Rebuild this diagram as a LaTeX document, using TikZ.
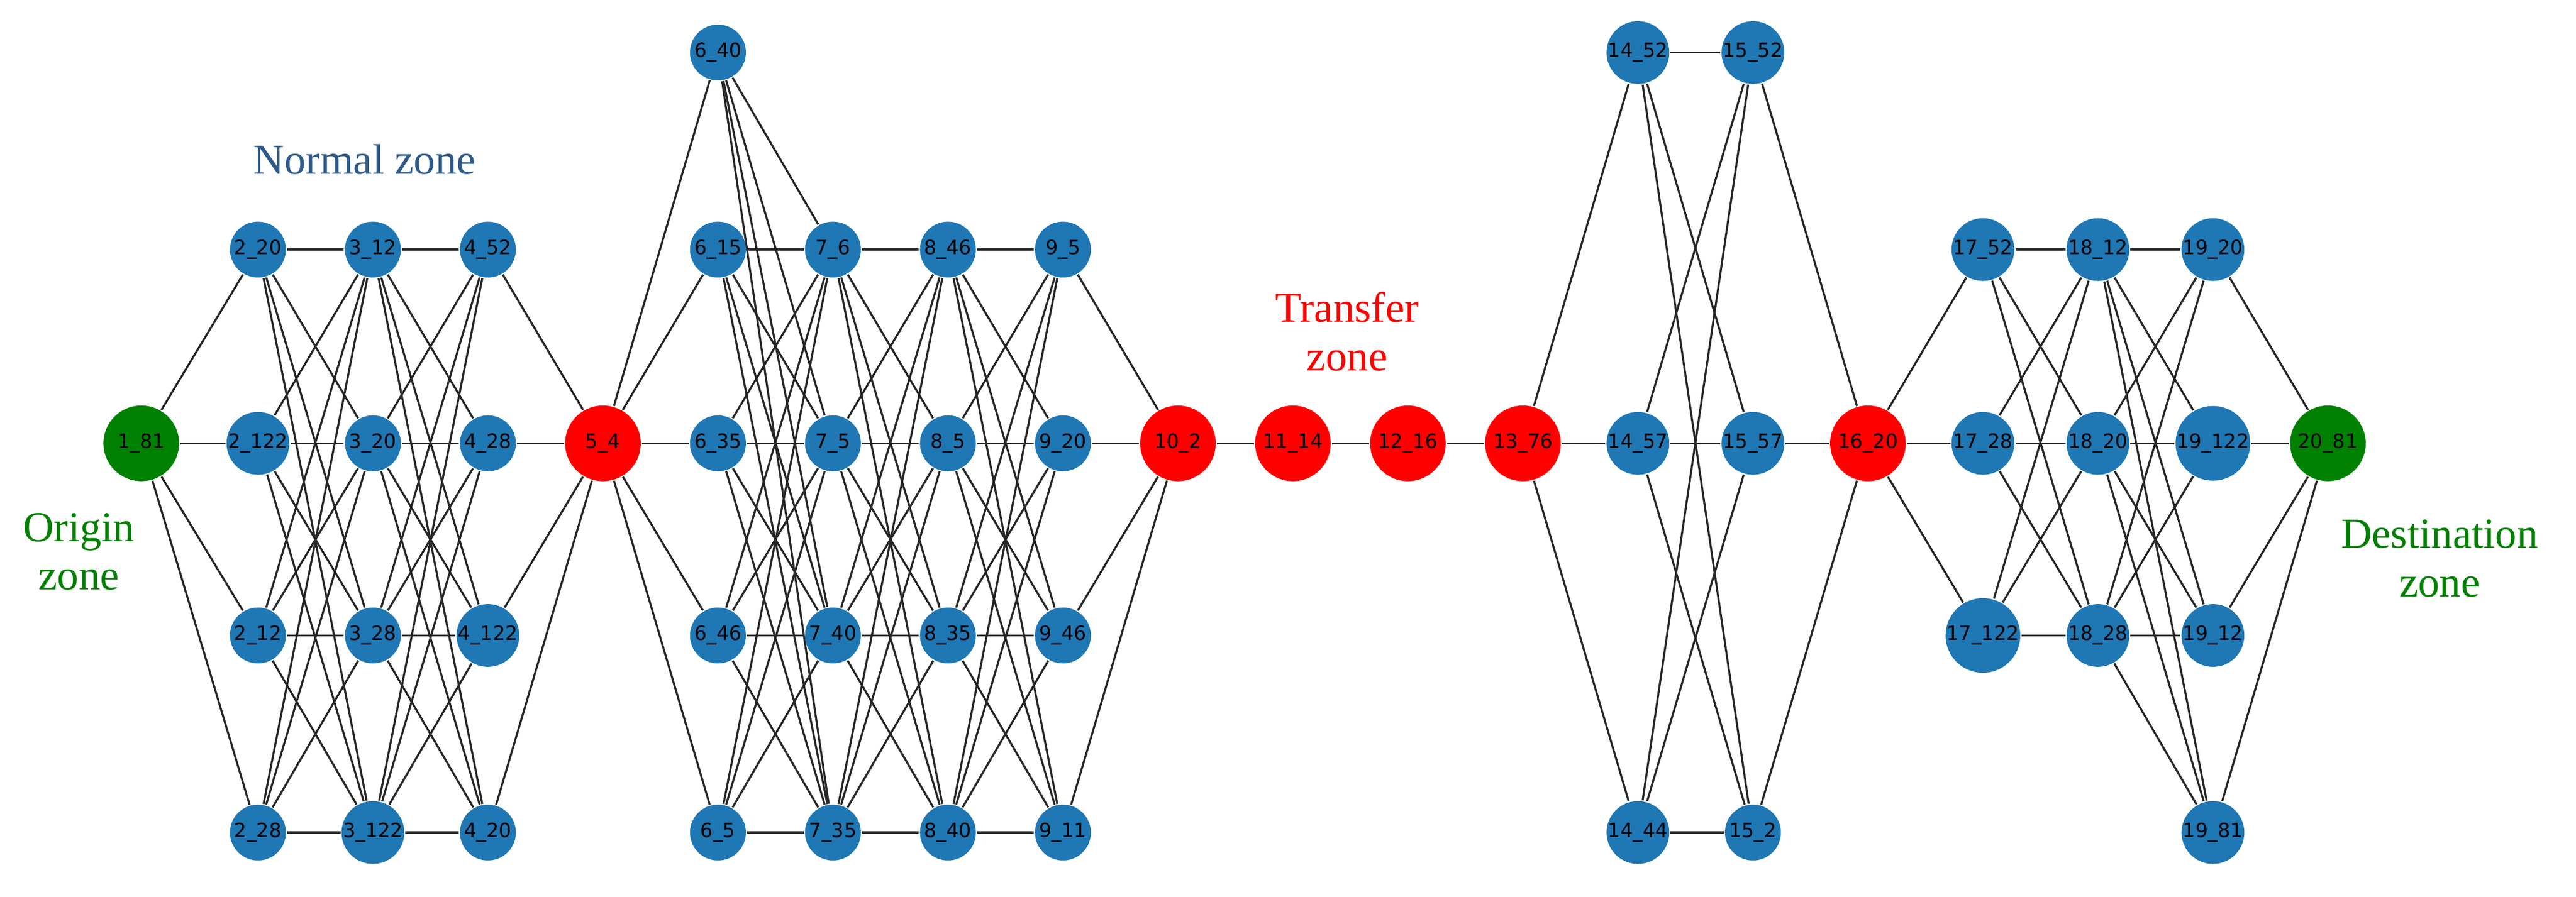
\documentclass[tikz,border=0pt]{standalone}
\usepackage{fontspec}
\setmainfont{Liberation Serif}
\newfontfamily\lab{DejaVu Sans}
\usetikzlibrary{backgrounds}
\definecolor{nb}{HTML}{1F77B4}
\definecolor{zblue}{HTML}{2E5A8A}
\definecolor{zgreen}{HTML}{008000}
\begin{document}
\begin{tikzpicture}[x=0.01cm,y=-0.01cm,
  sn/.style={circle,fill=nb,minimum size=0.34cm,inner sep=0pt,font=\lab\fontsize{3.4}{4}\selectfont},
  rn/.style={circle,fill=red,minimum size=0.46cm,inner sep=0pt,font=\lab\fontsize{3.4}{4}\selectfont},
  gn/.style={circle,fill=zgreen,minimum size=0.46cm,inner sep=0pt,font=\lab\fontsize{3.4}{4}\selectfont},
  ed/.style={line width=0.35pt,black!85},
  zl/.style={font=\fontsize{7.4}{8.4}\selectfont,align=center}]
\useasboundingbox (0,0) rectangle (1568,546);
% nodes
\node[gn] (n1_81) at (86,270) {1\_81};
\foreach \n/\y in {20/152,122/270,12/387,28/507} \node[sn] (n2_\n) at (157,\y) {2\_\n};
\foreach \n/\y in {12/152,20/270,28/387,122/507} \node[sn] (n3_\n) at (227,\y) {3\_\n};
\foreach \n/\y in {52/152,28/270,122/387,20/507} \node[sn] (n4_\n) at (297,\y) {4\_\n};
\node[rn] (n5_4) at (367,270) {5\_4};
\foreach \n/\y in {40/32,15/152,35/270,46/387,5/507} \node[sn] (n6_\n) at (437,\y) {6\_\n};
\foreach \n/\y in {6/152,5/270,40/387,35/507} \node[sn] (n7_\n) at (507,\y) {7\_\n};
\foreach \n/\y in {46/152,5/270,35/387,40/507} \node[sn] (n8_\n) at (577,\y) {8\_\n};
\foreach \n/\y in {5/152,20/270,46/387,11/507} \node[sn] (n9_\n) at (647,\y) {9\_\n};
\node[rn] (n10_2) at (717,270) {10\_2};
\node[rn] (n11_14) at (787,270) {11\_14};
\node[rn] (n12_16) at (857,270) {12\_16};
\node[rn] (n13_76) at (927,270) {13\_76};
\foreach \n/\y in {52/32,57/270,44/507} \node[sn] (n14_\n) at (997,\y) {14\_\n};
\foreach \n/\y in {52/32,57/270,2/507} \node[sn] (n15_\n) at (1067,\y) {15\_\n};
\node[rn] (n16_20) at (1137,270) {16\_20};
\foreach \n/\y in {52/152,28/270,122/387} \node[sn] (n17_\n) at (1207,\y) {17\_\n};
\foreach \n/\y in {12/152,20/270,28/387} \node[sn] (n18_\n) at (1277,\y) {18\_\n};
\foreach \n/\y in {20/152,122/270,12/387,81/507} \node[sn] (n19_\n) at (1347,\y) {19\_\n};
\node[gn] (n20_81) at (1417,270) {20\_81};
% edges
\begin{scope}[on background layer]
\foreach \a in {20,122,12,28} \draw[ed] (n1_81) -- (n2_\a);
\foreach \a in {20,122,12,28} \foreach \b in {12,20,28,122} \draw[ed] (n2_\a) -- (n3_\b);
\foreach \a in {12,20,28,122} \foreach \b in {52,28,122,20} \draw[ed] (n3_\a) -- (n4_\b);
\foreach \a in {52,28,122,20} \draw[ed] (n4_\a) -- (n5_4);
\foreach \a in {40,15,35,46,5} \draw[ed] (n5_4) -- (n6_\a);
\foreach \a in {40,15,35,46,5} \foreach \b in {6,5,40,35} \draw[ed] (n6_\a) -- (n7_\b);
\foreach \a in {6,5,40,35} \foreach \b in {46,5,35,40} \draw[ed] (n7_\a) -- (n8_\b);
\foreach \a in {46,5,35,40} \foreach \b in {5,20,46,11} \draw[ed] (n8_\a) -- (n9_\b);
\foreach \a in {5,20,46,11} \draw[ed] (n9_\a) -- (n10_2);
\draw[ed] (n10_2) -- (n11_14) -- (n12_16) -- (n13_76);
\foreach \a in {52,57,44} \draw[ed] (n13_76) -- (n14_\a);
\foreach \a in {52,57,44} \foreach \b in {52,57,2} \draw[ed] (n14_\a) -- (n15_\b);
\foreach \a in {52,57,2} \draw[ed] (n15_\a) -- (n16_20);
\foreach \a in {52,28,122} \draw[ed] (n16_20) -- (n17_\a);
\foreach \a in {52,28,122} \foreach \b in {12,20,28} \draw[ed] (n17_\a) -- (n18_\b);
\foreach \a in {12,20,28} \foreach \b in {20,122,12,81} \draw[ed] (n18_\a) -- (n19_\b);
\foreach \a in {20,122,12,81} \draw[ed] (n19_\a) -- (n20_81);
\end{scope}
% zone labels
\node[zl,text=zblue] (lnorm) at (222,97) {Normal zone};
\node[zl,text=red] (ltrans) at (820,202) {Transfer\\zone};
\node[zl,text=zgreen] (lorig) at (48,336) {Origin\\zone};
\node[zl,text=zgreen] (ldest) at (1485,340) {Destination\\zone};
\end{tikzpicture}
\end{document}
